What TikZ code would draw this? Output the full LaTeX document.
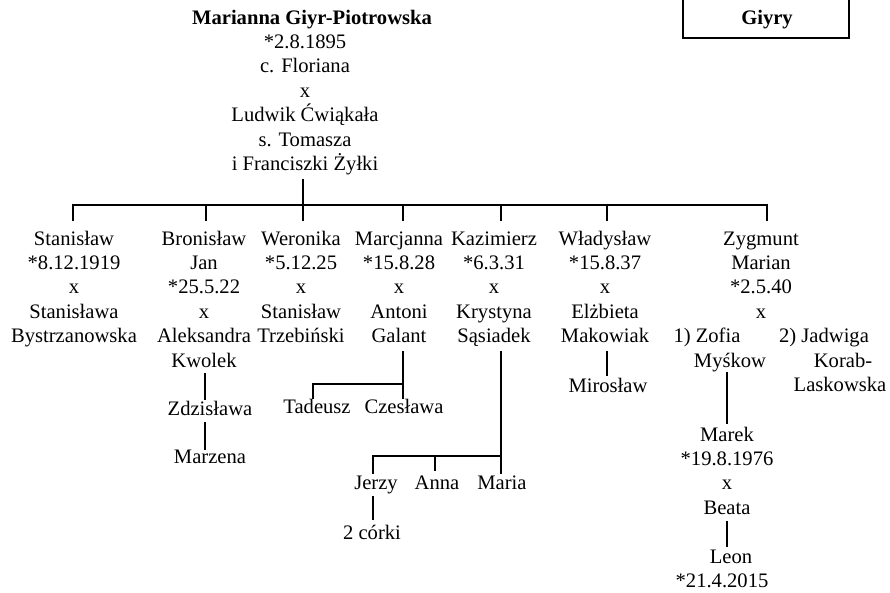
\documentclass[tikz,border=0pt]{standalone}
\usepackage{fontspec}
\setmainfont{Liberation Serif}
\tikzset{
  txt/.style={anchor=base, inner sep=0pt, font=\fontsize{20.6}{24.4}\selectfont},
  ttl/.style={anchor=base, inner sep=0pt, font=\fontsize{20.6}{24.4}\selectfont\bfseries},
  link/.style={line width=1.7pt, line cap=rect},
  frame/.style={line width=2pt}
}
\newcommand\famblock[4]{%
  \foreach \t [count=\i from 0] in {#4}{\node[txt] (#1-\i) at (#2,{#3+24.4*\i}) {\t};}}
\begin{document}
\begin{tikzpicture}[x=1pt,y=-1pt]
\useasboundingbox (0,0) rectangle (890,592);
% box at top right
\draw[frame] (683,-10) rectangle (849,37.5);
\node[ttl] (giyry) at (767,24) {Giyry};
% top person
\node[ttl] (top-0) at (312,24) {Marianna Giyr-Piotrowska};
\famblock{top}{305}{48.4}{*2.8.1895,c. Floriana,x,Ludwik Ćwiąkała,s. Tomasza,i Franciszki Żyłki}
% bar
\coordinate (t0) at (303,180);
\coordinate (b0) at (73,205);
\coordinate (b1) at (206,205);
\coordinate (b2) at (303,205);
\coordinate (b3) at (403,205);
\coordinate (b4) at (501,205);
\coordinate (b5) at (607,205);
\coordinate (b6) at (767,205);
\draw[link] (t0) -- (b2);
\draw[link] (b0) -- (b6);
\foreach \b in {b0,b1,b2,b3,b4,b5,b6}{\draw[link] (\b) -- ++(0,15);}
% children
\famblock{stan}{74}{245}{Stanisław,*8.12.1919,x,Stanisława,Bystrzanowska}
\famblock{bron}{204}{245}{Bronisław,Jan,*25.5.22,x,Aleksandra,Kwolek}
\famblock{wer}{301}{245}{Weronika,*5.12.25,x,Stanisław,Trzebiński}
\famblock{marc}{399}{245}{Marcjanna,*15.8.28,x,Antoni,Galant}
\famblock{kaz}{494}{245}{Kazimierz,*6.3.31,x,Krystyna,Sąsiadek}
\famblock{wlad}{605}{245}{Władysław,*15.8.37,x,Elżbieta,Makowiak}
\famblock{zyg}{761}{245}{Zygmunt,Marian,*2.5.40,x}
\node[txt] (zof-0) at (707,342.6) {1) Zofia};
\node[txt] (zof-1) at (730,367) {Myśkow};
\node[txt] (jad-0) at (824,342.6) {2) Jadwiga};
\node[txt] (jad-1) at (843,367) {Korab-};
\node[txt] (jad-2) at (840,391.4) {Laskowska};
% Bronislaw line
\node[txt] (zdz) at (210,415) {Zdzisława};
\node[txt] (marz) at (210,463) {Marzena};
\coordinate (br1) at (205,374);
\coordinate (br2) at (205,399);
\coordinate (br3) at (205,423);
\coordinate (br4) at (205,449);
\draw[link] (br1) -- (br2);
\draw[link] (br3) -- (br4);
% Marcjanna line
\node[txt] (tad) at (317,413) {Tadeusz};
\node[txt] (cze) at (404,413) {Czesława};
\coordinate (mc1) at (403,352);
\coordinate (mc2) at (403,384);
\coordinate (mc3) at (313,384);
\draw[link] (mc1) -- (mc2) -- (mc3) -- ++(0,14);
\draw[link] (mc2) -- ++(0,14);
% Kazimierz line
\node[txt] (jer) at (376,489) {Jerzy};
\node[txt] (ann) at (437,489) {Anna};
\node[txt] (mar) at (502,489) {Maria};
\node[txt] (cor) at (372,539) {2 córki};
\coordinate (kz1) at (501,352);
\coordinate (kz2) at (501,456);
\coordinate (kz3) at (373,456);
\coordinate (kz4) at (435,456);
\draw[link] (kz1) -- (kz2) -- (kz3) -- ++(0,17);
\draw[link] (kz4) -- ++(0,14);
\draw[link] (kz2) -- ++(0,17);
\coordinate (jz1) at (373,497);
\coordinate (jz2) at (373,519);
\draw[link] (jz1) -- (jz2);
% Wladyslaw line
\node[txt] (mir) at (608,392) {Mirosław};
\coordinate (wl1) at (607,352);
\coordinate (wl2) at (607,375);
\draw[link] (wl1) -- (wl2);
% Zygmunt line
\coordinate (zy1) at (727,373);
\coordinate (zy2) at (727,423);
\draw[link] (zy1) -- (zy2);
\famblock{mrk}{727}{441}{Marek,*19.8.1976,x,Beata}
\coordinate (zy3) at (727,522);
\coordinate (zy4) at (727,546);
\draw[link] (zy3) -- (zy4);
\node[txt] (leon) at (731,563) {Leon};
\node[txt] (leon-1) at (722,587) {*21.4.2015};
\end{tikzpicture}
\end{document}
